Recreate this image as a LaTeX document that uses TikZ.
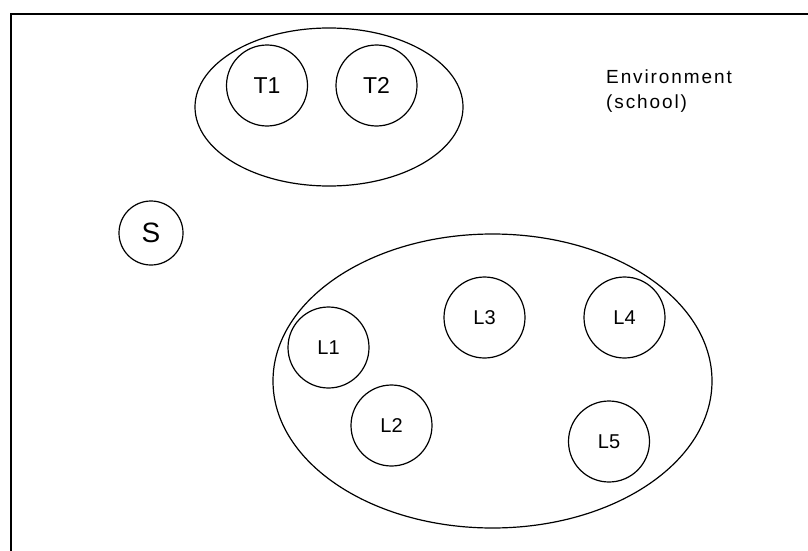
\documentclass[tikz,border=0pt]{standalone}
\usepackage{fontspec}
\setmainfont{Liberation Sans}
\newfontfamily\envfont[LetterSpace=10]{Liberation Sans}
\usetikzlibrary{shapes.geometric}
\begin{document}
\begin{tikzpicture}[x=1pt,y=-1pt,
  member/.style={circle,draw,line width=1.2pt,minimum size=81pt,inner sep=0pt,
    font=\fontsize{20}{24}\selectfont},
  teacher/.style={member,font=\fontsize{23}{27}\selectfont},
  group/.style={ellipse,draw,line width=1.2pt,inner sep=0pt}]
\useasboundingbox (0,0) rectangle (808,551);
\clip (0,0) rectangle (808,551);
% surrounding environment frame, running off the right and bottom edges
\draw[line width=2pt] (11,570) -- (11,14) -- (830,14);
% teachers
\node[group,minimum width=268pt,minimum height=158pt] (tgroup) at (329,107) {};
\node[teacher] (T1) at (267,85.5) {T1};
\node[teacher] (T2) at (376.5,85.5) {T2};
% student outside the groups
\node[member,minimum size=64pt,font=\fontsize{28}{32}\selectfont] (S) at (151,233) {S};
% learners
\node[group,minimum width=439pt,minimum height=294pt] (lgroup) at (492.5,381) {};
\node[member] (L1) at (328.5,347.5) {L1};
\node[member] (L2) at (391.5,425.5) {L2};
\node[member] (L3) at (484.5,317.5) {L3};
\node[member] (L4) at (624.5,317.5) {L4};
\node[member] (L5) at (609,441.5) {L5};
% label
\node[anchor=base west,align=left,inner sep=0pt,
  font=\envfont\fontsize{19}{25}\selectfont] (env) at (606,108)
  {Environment\\(school)};
\end{tikzpicture}
\end{document}
